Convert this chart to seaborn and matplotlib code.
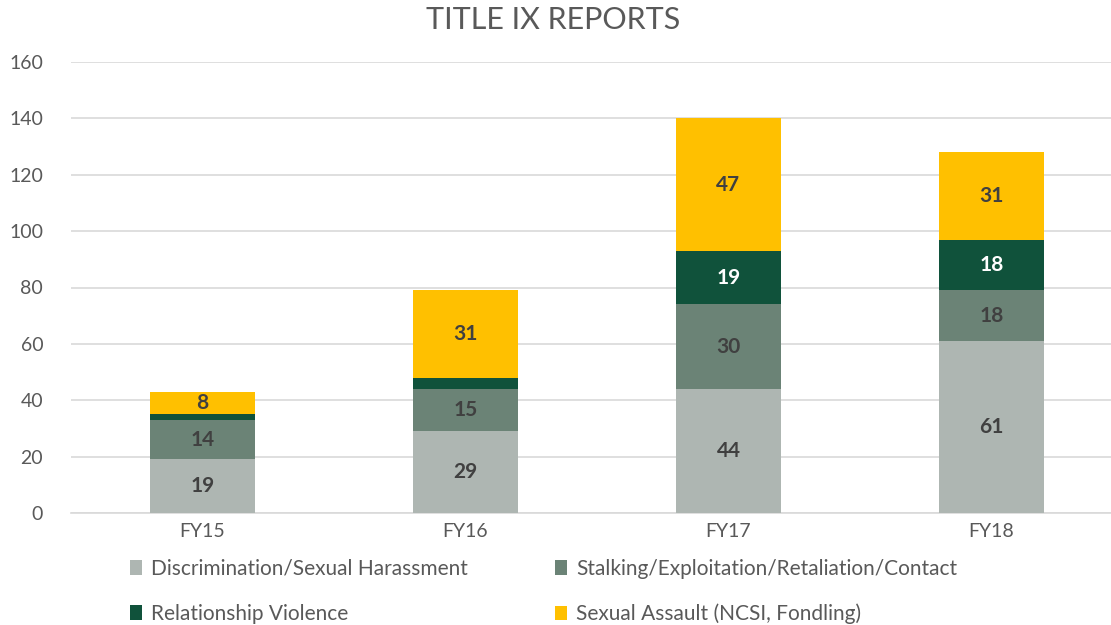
import numpy as np
import pandas as pd
import matplotlib
matplotlib.use("Agg")
import matplotlib.pyplot as plt
import seaborn as sns
from matplotlib.patches import Patch

years = ["FY15", "FY16", "FY17", "FY18"]
discrimination = [19, 29, 44, 61]
stalking = [14, 15, 30, 18]
relationship = [2, 4, 19, 18]
assault = [8, 31, 47, 31]

series = ["Discrimination/Sexual Harassment",
          "Stalking/Exploitation/Retaliation/Contact",
          "Relationship Violence",
          "Sexual Assault (NCSI, Fondling)"]
colors = ["#AEB6B2", "#6B8376", "#10523B", "#FFC000"]
label_colors = ["#404040", "#404040", "white", "#404040"]

sns.set_style("white")
plt.rcParams["font.family"] = ["Lato", "DejaVu Sans"]

df = pd.DataFrame({"year": years, series[0]: discrimination, series[1]: stalking,
                   series[2]: relationship, series[3]: assault})
cum = df[series].cumsum(axis=1)

fig = plt.figure(figsize=(11.11, 6.25), dpi=100)
ax = fig.add_axes([71 / 1111, 1 - 513 / 625, 1 - 71 / 1111, (513 - 62) / 625])

# draw stacks from top layer down so each lower layer covers the previous
for i in range(len(series) - 1, -1, -1):
    sns.barplot(x=df["year"], y=cum[series[i]], color=colors[i], width=0.4,
                saturation=1, linewidth=0, ax=ax, zorder=3)

for i, s in enumerate(series):
    for j in range(len(years)):
        v = df[s][j]
        if v < 8:
            continue
        mid = cum[s][j] - v / 2
        ax.text(j, mid, str(v), ha="center", va="center", fontsize=15,
                fontweight="bold", color=label_colors[i], zorder=5)

ax.set_ylim(0, 160)
ax.set_xlim(-0.5, (1111 - 71) / 263 - 0.5)
ax.set_yticks(range(0, 161, 20))
ax.yaxis.grid(True, color="#D9D9D9", linewidth=1.2, zorder=0)
ax.set_axisbelow(True)
for sp in ["top", "right", "left"]:
    ax.spines[sp].set_visible(False)
ax.spines["bottom"].set_color("#D9D9D9")
ax.spines["bottom"].set_linewidth(1.2)
ax.set_xlabel("")
ax.set_ylabel("")
ax.tick_params(axis="both", length=0, labelsize=14, labelcolor="#595959")
ax.tick_params(axis="y", pad=20)
ax.tick_params(axis="x", pad=7)

fig.text(553 / 1111, 1 - 20 / 625, "TITLE IX REPORTS", ha="center", va="center",
         fontsize=22, color="#595959")

# matplotlib fills legend columns first; reorder so rows read left to right
order = [0, 2, 1, 3]
handles = [Patch(facecolor=colors[k], edgecolor="none") for k in order]
labels = [series[k] for k in order]
fig.legend(handles, labels, loc="upper left", bbox_to_anchor=(111 / 1111, 1 - 540 / 625),
           ncol=2, frameon=False, fontsize=15, labelcolor="#595959",
           handlelength=0.6, handleheight=0.7, handletextpad=0.4,
           columnspacing=4.2, labelspacing=1.2)

fig.savefig("out.png", dpi=100)
